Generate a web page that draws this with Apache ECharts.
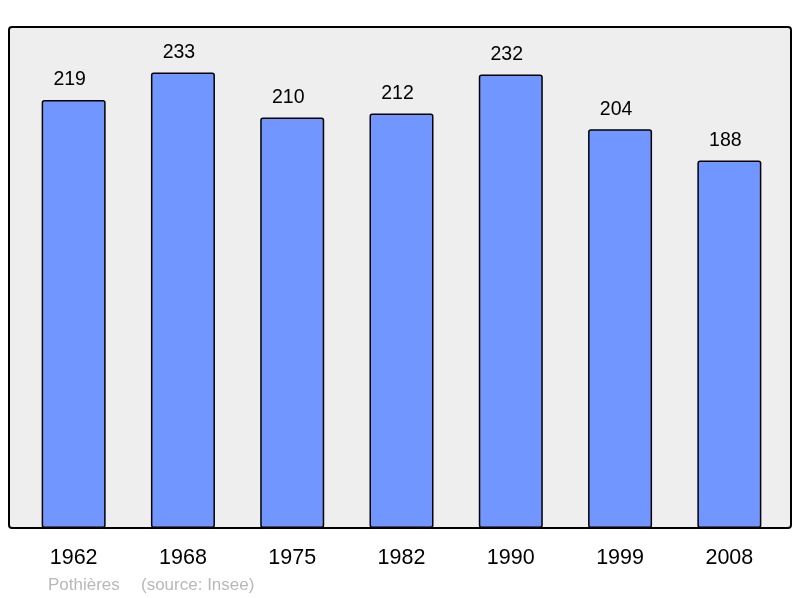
<!DOCTYPE html>
<html><head><meta charset="utf-8">
<script src="https://cdn.jsdelivr.net/npm/echarts@6/dist/echarts.min.js"></script>
<style>html,body{margin:0;padding:0;background:#fff}#c{width:800px;height:598px}</style>
</head><body><div id="c"></div>
<script>
const years = ['1962','1968','1975','1982','1990','1999','2008'];
const population = [219,233,210,212,232,204,188];
const commune = 'Pothières';
const source = '(source: Insee)';

const chart = echarts.init(document.getElementById('c'));
chart.setOption({
  animation: false,
  backgroundColor: '#ffffff',
  grid: {left: 19, right: 16, top: 27, bottom: 70},
  graphic: [
    {type: 'rect', z: -10, silent: true,
     shape: {x: 9, y: 27, width: 782, height: 501, r: 3},
     style: {fill: '#eeeeee', stroke: '#000', lineWidth: 2}},
    {type: 'text', left: 48, top: 577, style: {text: commune, fill: '#b8b8b8', font: '17px "Liberation Sans", Arial, sans-serif'}},
    {type: 'text', left: 141, top: 577, style: {text: source, fill: '#b8b8b8', font: '17px "Liberation Sans", Arial, sans-serif'}}
  ],
  xAxis: {
    type: 'category', data: years,
    axisLine: {show: false}, axisTick: {show: false},
    axisLabel: {color: '#000', fontSize: 21.5, fontFamily: 'Liberation Sans', margin: 19}
  },
  yAxis: {
    type: 'value', min: 0, max: 256.3,
    show: false, splitLine: {show: false}
  },
  series: [{
    type: 'bar', data: population, barWidth: 64,
    itemStyle: {color: '#7296ff', borderColor: '#000', borderWidth: 1.5, borderRadius: 2},
    label: {show: true, position: 'top', distance: 10, offset: [-4, 0], color: '#000', fontSize: 19.5, fontFamily: 'Liberation Sans'}
  }]
});
</script></body></html>
